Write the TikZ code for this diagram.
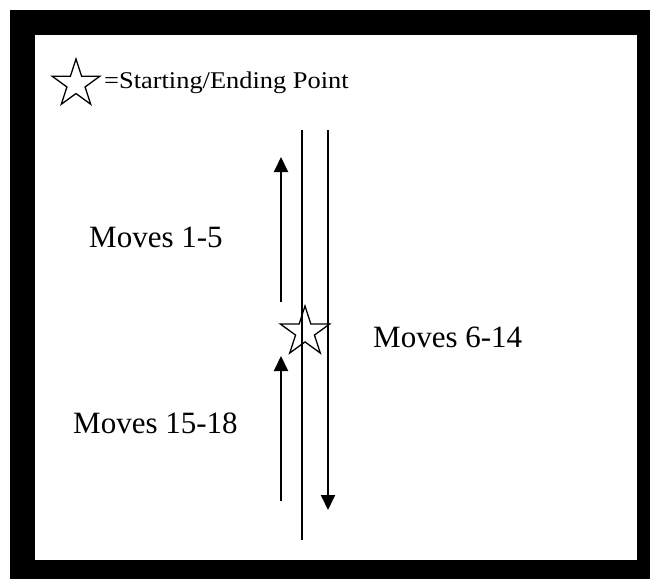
\documentclass[tikz,border=0pt]{standalone}
\usepackage{fontspec}
\setmainfont{Liberation Serif}
\usetikzlibrary{shapes.geometric,arrows.meta}
\begin{document}
\begin{tikzpicture}[x=1pt,y=-1pt,
  staricon/.style={star,star points=5,star point ratio=2.618,draw,line width=1.3pt,inner sep=0pt},
  track/.style={line width=2pt},
  movearrow/.style={line width=2pt,-{Triangle[width=14pt,length=15pt]}},
  movelabel/.style={font=\fontsize{31}{37}\selectfont,anchor=base west,inner sep=0pt}]
\useasboundingbox (0,0) rectangle (650,579);
\fill[black] (10,10) rectangle (650,579);
\fill[white] (35,35) rectangle (637,560);
% legend
\node[staricon,minimum size=50pt] (legstar) at (76,84) {};
\node[anchor=base west,inner sep=0pt,font=\fontsize{24}{28}\selectfont,xscale=1.1] (legtext) at (104,88) {=Starting/Ending Point};
% tracks
\coordinate (midtop) at (302,130);
\coordinate (midbot) at (302,540);
\coordinate (righttop) at (328,130);
\coordinate (rightend) at (328,510);
\coordinate (up1s) at (281,302);
\coordinate (up1e) at (281,157);
\coordinate (up2s) at (281,501);
\coordinate (up2e) at (281,356);
\draw[track] (midtop) -- (midbot);
\draw[movearrow] (righttop) -- (rightend);
\draw[movearrow] (up1s) -- (up1e);
\draw[movearrow] (up2s) -- (up2e);
\node[staricon,minimum size=52pt] (start) at (305,332) {};
% labels
\node[movelabel] (m1) at (89,247) {Moves 1-5};
\node[movelabel] (m2) at (373,347) {Moves 6-14};
\node[movelabel] (m3) at (73,433) {Moves 15-18};
\end{tikzpicture}
\end{document}
